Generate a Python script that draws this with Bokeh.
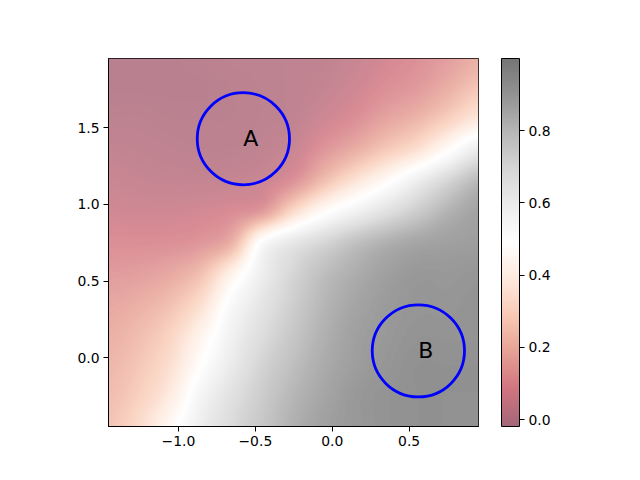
import numpy as np
from bokeh.plotting import figure
from bokeh.models import LinearColorMapper, ColorBar, FixedTicker
from bokeh.core.properties import value
from bokeh.embed import file_html
from bokeh.resources import INLINE

# ---- data ----
grid_x = [-1.45, -1.25, -1.05, -0.85, -0.65, -0.45, -0.25, -0.05, 0.15, 0.35, 0.55, 0.75, 0.95]
grid_y = [-0.45, -0.25, -0.05, 0.15, 0.35, 0.55, 0.75, 0.95, 1.15, 1.35, 1.55, 1.75, 1.95]
row_m045 = [0.25, 0.33, 0.46, 0.60, 0.70, 0.78, 0.86, 0.92, 0.95, 0.97, 0.98, 0.98, 0.98]
row_m025 = [0.23, 0.29, 0.39, 0.56, 0.67, 0.76, 0.84, 0.90, 0.95, 0.97, 0.98, 0.98, 0.98]
row_m005 = [0.21, 0.26, 0.34, 0.49, 0.62, 0.73, 0.81, 0.88, 0.93, 0.96, 0.98, 0.98, 0.98]
row_015 = [0.19, 0.23, 0.30, 0.43, 0.58, 0.69, 0.78, 0.86, 0.92, 0.95, 0.97, 0.97, 0.97]
row_035 = [0.165, 0.19, 0.24, 0.34, 0.53, 0.65, 0.75, 0.84, 0.90, 0.94, 0.96, 0.96, 0.97]
row_055 = [0.13, 0.14, 0.17, 0.24, 0.42, 0.60, 0.72, 0.81, 0.87, 0.92, 0.95, 0.95, 0.96]
row_075 = [0.095, 0.095, 0.10, 0.12, 0.20, 0.52, 0.64, 0.72, 0.80, 0.86, 0.90, 0.92, 0.93]
row_095 = [0.065, 0.06, 0.06, 0.07, 0.09, 0.14, 0.33, 0.48, 0.58, 0.67, 0.76, 0.85, 0.91]
row_115 = [0.045, 0.035, 0.03, 0.03, 0.035, 0.05, 0.11, 0.24, 0.36, 0.47, 0.60, 0.72, 0.83]
row_135 = [0.025, 0.02, 0.015, 0.01, 0.01, 0.02, 0.045, 0.12, 0.19, 0.27, 0.35, 0.48, 0.62]
row_155 = [0.01, 0.01, 0.005, 0.005, 0.005, 0.01, 0.02, 0.06, 0.10, 0.16, 0.21, 0.29, 0.38]
row_175 = [0.0, 0.0, 0.0, 0.0, 0.005, 0.01, 0.015, 0.03, 0.06, 0.10, 0.13, 0.19, 0.26]
row_195 = [0.0, 0.0, 0.0, 0.005, 0.01, 0.01, 0.015, 0.02, 0.04, 0.07, 0.10, 0.14, 0.19]

circle_labels = ["A", "B"]
circle_x = [-0.578, 0.560]
circle_y = [1.428, 0.046]
circle_r = [0.30, 0.30]

x_ticks = [-1.0, -0.5, 0.0, 0.5]
x_tick_labels = ["\u22121.0", "\u22120.5", "0.0", "0.5"]
y_ticks = [0.0, 0.5, 1.0, 1.5]
y_tick_labels = ["0.0", "0.5", "1.0", "1.5"]
cbar_ticks = [0.0, 0.2, 0.4, 0.6, 0.8]
cbar_tick_labels = ["0.0", "0.2", "0.4", "0.6", "0.8"]
value_low, value_high = -0.019, 1.0

x0, x1 = -1.455, 0.951
y0, y1 = -0.447, 1.951

# ---- colormap: matplotlib RdGy with alpha over white ----
rdgy = ["#67001f", "#b2182b", "#d6604d", "#f4a582", "#fddbc7", "#ffffff",
        "#e0e0e0", "#bababa", "#878787", "#4d4d4d", "#1a1a1a"]

def make_palette(alpha, n=256):
    anchors = np.array([[int(c[i:i + 2], 16) for i in (1, 3, 5)] for c in rdgy], float)
    pos = np.linspace(0, 1, len(anchors))
    t = np.linspace(0, 1, n)
    rgb = np.stack([np.interp(t, pos, anchors[:, k]) for k in range(3)], axis=1)
    rgb = alpha * rgb + (1 - alpha) * 255.0
    return ["#%02x%02x%02x" % tuple(int(round(v)) for v in c) for c in rgb]

pal_img = make_palette(0.5)
pal_bar = make_palette(0.6)

# ---- image: smooth (bicubic) display resampling of the read grid ----
Z = np.array([row_m045, row_m025, row_m005, row_015, row_035, row_055, row_075,
              row_095, row_115, row_135, row_155, row_175, row_195])
gx = np.array(grid_x)
gy = np.array(grid_y)
nx, ny = 370, 368
fx = x0 + (np.arange(nx) + 0.5) * (x1 - x0) / nx
fy = y0 + (np.arange(ny) + 0.5) * (y1 - y0) / ny

def cubic_matrix(fine, coarse):
    n = len(coarse)
    t = np.clip((fine - coarse[0]) / (coarse[1] - coarse[0]), 0, n - 1)
    i = np.floor(t).astype(int)
    i = np.minimum(i, n - 2)
    f = t - i
    w = [(-0.5 * f**3 + f**2 - 0.5 * f),
         (1.5 * f**3 - 2.5 * f**2 + 1),
         (-1.5 * f**3 + 2 * f**2 + 0.5 * f),
         (0.5 * f**3 - 0.5 * f**2)]
    M = np.zeros((len(fine), n))
    for k, off in enumerate((-1, 0, 1, 2)):
        idx = np.clip(i + off, 0, n - 1)
        np.add.at(M, (np.arange(len(fine)), idx), w[k])
    return M

Mx = cubic_matrix(fx, gx)
My = cubic_matrix(fy, gy)
img = My @ Z @ Mx.T

mapper_img = LinearColorMapper(palette=pal_img, low=value_low, high=value_high)
mapper_bar = LinearColorMapper(palette=pal_bar, low=value_low, high=value_high)

FONT = "DejaVu Sans"

p = figure(width=632, height=466, x_range=(x0, x1), y_range=(y0, y1),
           frame_width=370, frame_height=368,
           min_border_left=108, min_border_top=58, min_border_right=10,
           min_border_bottom=40,
           output_backend="svg", toolbar_location=None)
p.image(image=[img], x=x0, y=y0, dw=x1 - x0, dh=y1 - y0, color_mapper=mapper_img)

p.ellipse(x=circle_x, y=circle_y, width=[2 * r for r in circle_r],
          height=[2 * r for r in circle_r], fill_color=None,
          line_color="#0000ff", line_width=2.8)
p.text(x=circle_x, y=circle_y, text=circle_labels, text_align="left",
       text_baseline="alphabetic", text_font=value(FONT), text_font_size="22px",
       text_color="black")

p.grid.visible = False
p.outline_line_color = "black"
p.outline_line_width = 1
p.background_fill_color = "white"

for ax, ticks, labels in ((p.xaxis[0], x_ticks, x_tick_labels), (p.yaxis[0], y_ticks, y_tick_labels)):
    ax.ticker = FixedTicker(ticks=ticks)
    ax.major_label_overrides = {t: l for t, l in zip(ticks, labels)}
    ax.major_tick_out = 5
    ax.major_tick_in = 0
    ax.minor_tick_line_color = None
    ax.major_tick_line_color = "black"
    ax.axis_line_color = "black"
    ax.major_label_text_font = FONT
    ax.major_label_text_font_size = "13.9px"
    ax.major_label_text_color = "black"
    ax.major_label_standoff = 4

cb = ColorBar(color_mapper=mapper_bar, ticker=FixedTicker(ticks=cbar_ticks),
              major_label_overrides={t: l for t, l in zip(cbar_ticks, cbar_tick_labels)},
              width=18, height=368, padding=0, margin=0, location=(23, 0),
              bar_line_color="black", bar_line_width=1,
              major_tick_line_color="black", major_tick_out=5, major_tick_in=0,
              minor_tick_line_color=None, label_standoff=4,
              major_label_text_font=FONT, major_label_text_font_size="13.9px",
              major_label_text_color="black", background_fill_color=None,
              border_line_color=None)
p.add_layout(cb, "right")

open("out.html", "w").write(file_html(p, INLINE))
